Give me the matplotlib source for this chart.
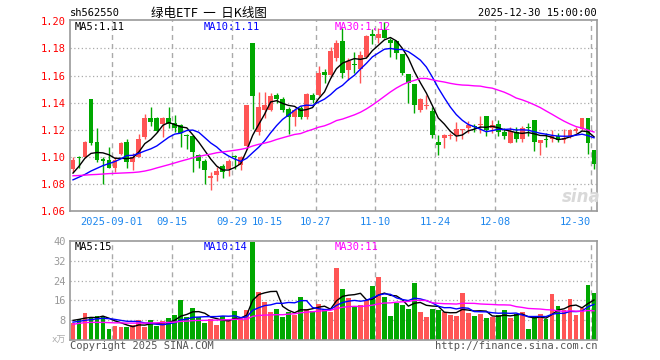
import numpy as np
import pandas as pd
import matplotlib
matplotlib.use("Agg")
import matplotlib.pyplot as plt

# ---------------- data ----------------
open_ = [1.091, 1.100, 1.0995, 1.143, 1.111, 1.0985, 1.0975, 1.092, 1.102, 1.111,
         1.096, 1.100, 1.1147, 1.1288, 1.1288, 1.1239, 1.129, 1.125, 1.1238, 1.116,
         1.1157, 1.1017, 1.0968, 1.084, 1.0865, 1.0935, 1.0907, 1.100, 1.0943, 1.1083,
         1.1842, 1.1181, 1.1346, 1.1346, 1.1457, 1.1427, 1.1353, 1.1292, 1.1358, 1.1297,
         1.1457, 1.1457, 1.1629, 1.1603, 1.173, 1.1854, 1.164, 1.1685, 1.1645, 1.1736,
         1.190, 1.1874, 1.1935, 1.1866, 1.1854, 1.1756, 1.1613, 1.1539, 1.1342, 1.1375,
         1.1337, 1.1111, 1.1136, 1.1155, 1.116, 1.1198, 1.1212, 1.1227, 1.1234, 1.1298,
         1.1212, 1.1244, 1.118, 1.1102, 1.118, 1.1131, 1.1214, 1.1269, 1.1102, 1.1128,
         1.1131, 1.1151, 1.1126, 1.1151, 1.1188, 1.1205, 1.1286, 1.1053]
high = [1.0995, 1.1005, 1.112, 1.143, 1.1215, 1.100, 1.107, 1.0995, 1.1113, 1.1135,
        1.103, 1.1165, 1.1319, 1.137, 1.1295, 1.1295, 1.137, 1.131, 1.124, 1.117,
        1.116, 1.102, 1.0985, 1.0887, 1.0925, 1.095, 1.0985, 1.1017, 1.1007, 1.1385,
        1.1842, 1.1479, 1.148, 1.147, 1.147, 1.1445, 1.137, 1.136, 1.1375, 1.147,
        1.147, 1.1673, 1.1646, 1.181, 1.1865, 1.195, 1.173, 1.1775, 1.178, 1.190,
        1.194, 1.195, 1.1997, 1.1879, 1.1854, 1.1756, 1.1613, 1.1539, 1.1431, 1.1456,
        1.137, 1.116, 1.1165, 1.1178, 1.1259, 1.1205, 1.1262, 1.124, 1.1298, 1.1298,
        1.127, 1.127, 1.1212, 1.122, 1.122, 1.1225, 1.1249, 1.1269, 1.1126, 1.1175,
        1.120, 1.1175, 1.1205, 1.1205, 1.122, 1.1286, 1.1286, 1.1053]
low = [1.089, 1.092, 1.099, 1.109, 1.0965, 1.0796, 1.0917, 1.089, 1.1015, 1.0914,
       1.090, 1.0995, 1.113, 1.1228, 1.118, 1.1148, 1.121, 1.118, 1.107, 1.106,
       1.0887, 1.092, 1.080, 1.0754, 1.082, 1.084, 1.0857, 1.0907, 1.090, 1.106,
       1.1207, 1.1159, 1.1287, 1.134, 1.140, 1.133, 1.1165, 1.123, 1.128, 1.128,
       1.140, 1.145, 1.1543, 1.159, 1.171, 1.158, 1.157, 1.162, 1.1547, 1.173,
       1.183, 1.184, 1.1874, 1.1736, 1.172, 1.1603, 1.1399, 1.1325, 1.1332, 1.135,
       1.114, 1.1013, 1.1067, 1.1128, 1.112, 1.113, 1.1175, 1.118, 1.1175, 1.1157,
       1.1175, 1.1157, 1.113, 1.1102, 1.1106, 1.1107, 1.1155, 1.104, 1.1016, 1.1072,
       1.1107, 1.1107, 1.1102, 1.1139, 1.1175, 1.120, 1.1024, 1.0907]
close = [1.098, 1.099, 1.111, 1.1105, 1.0975, 1.0966, 1.092, 1.098, 1.1105, 1.096,
         1.100, 1.1135, 1.1288, 1.126, 1.119, 1.1289, 1.124, 1.121, 1.1176, 1.1155,
         1.1032, 1.0968, 1.090, 1.0862, 1.0895, 1.0887, 1.0968, 1.0995, 1.100, 1.1383,
         1.1447, 1.1366, 1.138, 1.1449, 1.143, 1.1346, 1.1292, 1.1346, 1.1297, 1.1462,
         1.142, 1.1617, 1.1602, 1.1778, 1.184, 1.162, 1.1707, 1.168, 1.175, 1.189,
         1.1895, 1.1903, 1.1879, 1.1837, 1.1763, 1.162, 1.1547, 1.1382, 1.1424, 1.1382,
         1.116, 1.1084, 1.116, 1.1158, 1.1202, 1.120, 1.1237, 1.1222, 1.1237, 1.1195,
         1.1237, 1.118, 1.1151, 1.1188, 1.1134, 1.1212, 1.121, 1.1107, 1.1126, 1.1125,
         1.1151, 1.1126, 1.1139, 1.1195, 1.1205, 1.1286, 1.1102, 1.095]
volume = [6.8, 8.7, 11.1, 9.2, 9.8, 9.8, 4.5, 5.7, 5.5, 5.3,
          6.3, 8.1, 5.3, 8.1, 5.8, 7.7, 8.8, 10.0, 16.2, 9.2,
          13.0, 9.2, 6.8, 8.4, 6.1, 9.8, 7.9, 11.8, 8.8, 12.2,
          39.5, 19.4, 15.4, 11.4, 12.6, 9.4, 11.5, 10.3, 17.4, 12.4,
          11.8, 14.6, 12.3, 11.4, 29.2, 20.7, 17.0, 13.4, 14.1, 16.1,
          21.8, 25.5, 17.3, 9.6, 15.0, 14.1, 12.6, 23.1, 11.2, 9.3,
          12.6, 12.0, 11.4, 10.0, 9.6, 18.9, 10.8, 9.6, 10.4, 8.9,
          9.2, 10.0, 12.0, 8.9, 10.7, 11.2, 4.6, 9.6, 10.7, 8.5,
          18.5, 13.6, 12.0, 16.6, 10.0, 13.0, 22.2, 19.1]

# moving-average values before each window fills
ma5_head = [1.0880, 1.0930, 1.0990, 1.1025]
ma10_head = [1.0830, 1.0850, 1.0870, 1.0895, 1.0915, 1.0935, 1.0950, 1.0965, 1.0985]
ma30_head = [1.0860, 1.0862, 1.0865, 1.0868, 1.0870, 1.0873, 1.0876, 1.0878, 1.0880, 1.0882,
             1.0884, 1.0888, 1.0895, 1.0905, 1.0918, 1.0930, 1.0942, 1.0955, 1.0968, 1.0980,
             1.0992, 1.1003, 1.1012, 1.1020, 1.1030, 1.1036, 1.1042, 1.1048, 1.1055]
vma5_head = [8.0, 8.4, 8.9, 9.2]
vma10_head = [7.3, 7.6, 8.0, 8.3, 8.6, 8.8, 8.7, 8.4, 8.0]
vma30_head = [6.4, 6.8, 7.1, 7.2, 7.2, 7.2, 7.1, 7.0, 7.0, 6.9,
              6.9, 6.9, 6.9, 7.0, 7.0, 7.1, 7.2, 7.3, 7.6, 7.7,
              7.9, 8.0, 8.0, 8.1, 8.1, 8.2, 8.3, 8.4, 8.5]

date_labels = ["2025-09-01", "09-15", "09-29", "10-15", "10-27", "11-10", "11-24", "12-08", "12-30"]
date_index = [7, 17, 27, 33, 41, 51, 61, 71, 87]
grid_index = [7, 17, 27, 41, 51, 61, 71, 87]

# ---------------- styling ----------------
UP = "#ff5555"
DOWN = "#00a800"
MONO = ["DejaVu Sans Mono"]
CJK = ["Noto Sans CJK SC", "DejaVu Sans"]
W, H = 660, 360


def fx(px):
    return px / W


def fy(py):
    return 1 - py / H


def ma(series, n, head):
    s = pd.Series(series).rolling(n).mean().to_numpy()
    s[:len(head)] = head
    return s


n = len(close)
x = np.arange(n)
o = np.array(open_); c = np.array(close); hi = np.array(high); lo = np.array(low)
v = np.array(volume)
up = c >= o
colors = np.where(up, UP, DOWN)

fig = plt.figure(figsize=(6.6, 3.6), dpi=100)
fig.patch.set_facecolor("white")

axp = fig.add_axes([fx(70), fy(211), fx(527), 191 / H])
axv = fig.add_axes([fx(70), fy(340.3), fx(527), 99.6 / H])

for ax in (axp, axv):
    ax.set_xlim(-0.5, n - 0.5)
    for sp in ax.spines.values():
        sp.set_color("#999999")
        sp.set_linewidth(1.2)
    for gi in grid_index:
        ax.axvline(gi - 0.5, color="#aaaaaa", lw=1.0, ls=(0, (3.6, 2.9)), zorder=0)
    ax.tick_params(length=0)

# price panel
axp.set_ylim(1.06, 1.201)
for yv in [1.08, 1.10, 1.12, 1.14, 1.16, 1.18]:
    axp.axhline(yv, color="#aaaaaa", lw=0.9, ls=(0, (1, 2)), zorder=0)
axp.vlines(x, lo, hi, colors=colors, lw=1.0, zorder=2)
body = np.maximum(np.abs(c - o), 0.0008)
axp.bar(x, body, bottom=np.minimum(o, c), width=0.8, color=colors, zorder=3, linewidth=0)
axp.plot(x, ma(close, 5, ma5_head), color="black", lw=1.0, zorder=4)
axp.plot(x, ma(close, 10, ma10_head), color="#0000ff", lw=1.0, zorder=4)
axp.plot(x, ma(close, 30, ma30_head), color="#ff00ff", lw=1.0, zorder=4)

pt = [1.06, 1.08, 1.10, 1.12, 1.14, 1.16, 1.18, 1.20]
axp.set_yticks(pt)
axp.set_yticklabels([f"{t:.2f}" for t in pt], color="#ff0000", family=MONO, fontsize=7.5)
axp.tick_params(axis="y", pad=3)
axp.set_xticks([i - 0.5 for i in date_index])
axp.set_xticklabels(date_labels, color="#1c86ee", family=MONO, fontsize=7.5)
axp.tick_params(axis="x", pad=4)
axp.get_xticklabels()[-1].set_ha("right")

# volume panel
axv.set_ylim(0, 40)
for yv in [8, 16, 24, 32]:
    axv.axhline(yv, color="#aaaaaa", lw=0.9, ls=(0, (1, 2)), zorder=0)
axv.bar(x, v, width=0.8, color=colors, zorder=2, linewidth=0)
axv.plot(x, ma(volume, 5, vma5_head), color="black", lw=1.0, zorder=4)
axv.plot(x, ma(volume, 10, vma10_head), color="#0000ff", lw=1.0, zorder=4)
axv.plot(x, ma(volume, 30, vma30_head), color="#ff00ff", lw=1.0, zorder=4)
vt = [8, 16, 24, 32, 40]
axv.set_yticks(vt)
axv.set_yticklabels([str(t) for t in vt], color="#999999", family=MONO, fontsize=7.5)
axv.tick_params(axis="y", pad=3)
axv.set_xticks([])

# texts
fig.text(fx(70), fy(13), "sh562550", ha="left", va="center", family=MONO, fontsize=7.5, color="black")
fig.text(fx(209), fy(13), "绿电ETF  一  日K线图", ha="center", va="center", family=CJK, fontsize=9, color="black")
fig.text(fx(597), fy(13), "2025-12-30 15:00:00", ha="right", va="center", family=MONO, fontsize=7.5, color="black")

fig.text(fx(75), fy(26.5), "MA5:1.11", ha="left", va="center", family=MONO, fontsize=7.5, color="black")
fig.text(fx(204), fy(26.5), "MA10:1.11", ha="left", va="center", family=MONO, fontsize=7.5, color="#0000ff")
fig.text(fx(335), fy(26.5), "MA30:1.12", ha="left", va="center", family=MONO, fontsize=7.5, color="#ff00ff")

fig.text(fx(75), fy(246.5), "MA5:15", ha="left", va="center", family=MONO, fontsize=7.5, color="black")
fig.text(fx(204), fy(246.5), "MA10:14", ha="left", va="center", family=MONO, fontsize=7.5, color="#0000ff")
fig.text(fx(335), fy(246.5), "MA30:11", ha="left", va="center", family=MONO, fontsize=7.5, color="#ff00ff")

fig.text(fx(66), fy(340), "x万", ha="right", va="center", family=["DejaVu Sans Mono", "Noto Sans CJK SC"], fontsize=6.5, color="#aaaaaa")
fig.text(fx(70), fy(346), "Copyright 2025 SINA.COM", ha="left", va="center", family=MONO, fontsize=7.5, color="#555555")
fig.text(fx(597), fy(346), "http://finance.sina.com.cn", ha="right", va="center", family=MONO, fontsize=7.5, color="#555555")

fig.text(fx(581), fy(197), "sina", ha="center", va="center", family=["DejaVu Sans"], fontsize=12,
         fontweight="bold", fontstyle="italic", color="#d9d9d9")

fig.savefig("out.png", dpi=100, facecolor="white")
